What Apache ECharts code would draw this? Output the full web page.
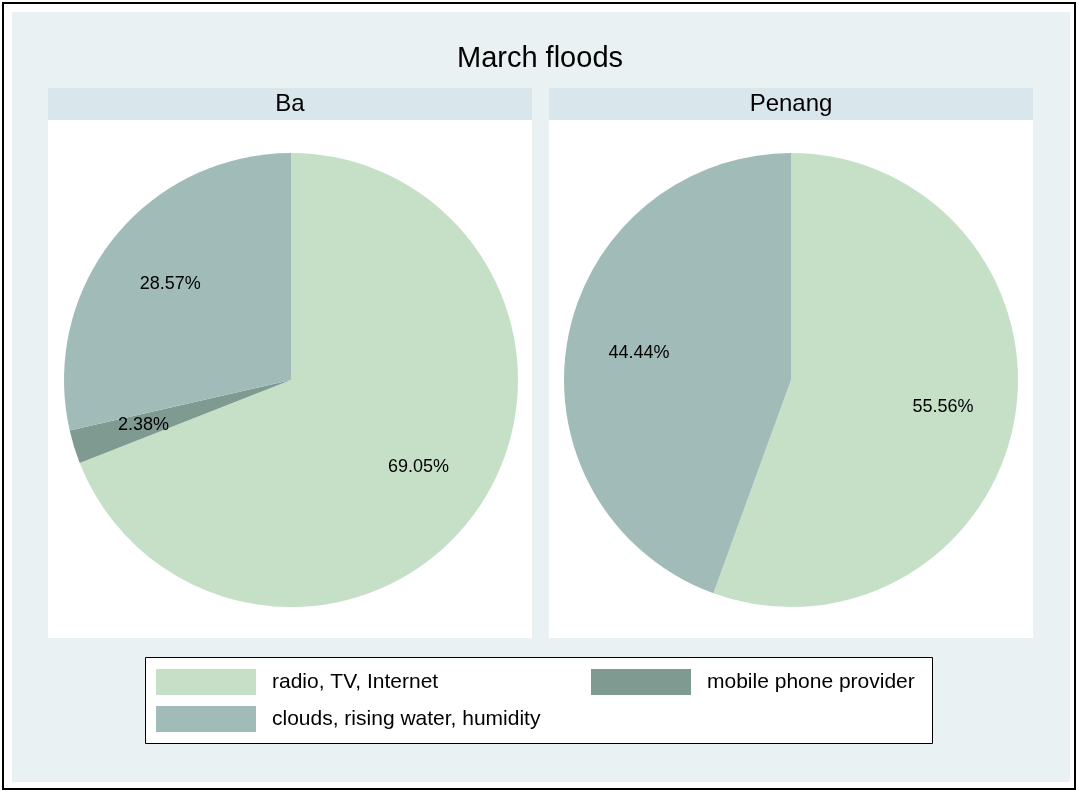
<!DOCTYPE html>
<html>
<head>
<meta charset="utf-8">
<script src="https://cdn.jsdelivr.net/npm/echarts@6/dist/echarts.min.js"></script>
<style>
html,body{margin:0;padding:0;background:#fff;}
#chart{width:1078px;height:792px;}
</style>
</head>
<body>
<div id="chart"></div>
<script>
var chartTitle = 'March floods';
var panels = ['Ba', 'Penang'];
var categories = ['radio, TV, Internet', 'mobile phone provider', 'clouds, rising water, humidity'];
var colors = ['#c5e0c6', '#7f9a91', '#a1bcb8'];
// counts per panel (order: radio, mobile, clouds)
var baValues = [29, 1, 12];
var penangValues = [5, 0, 4];

var FONT = '"Liberation Sans", Arial, sans-serif';
var R = 227;
var centers = [[291, 380], [791, 380]];

function buildData(vals) {
  var out = [];
  for (var i = 0; i < categories.length; i++) {
    if (vals[i] > 0) out.push({name: categories[i], value: vals[i], itemStyle: {color: colors[i]}});
  }
  return out;
}

var allVals = [baValues, penangValues];
var series = [];
for (var p = 0; p < 2; p++) {
  series.push({
    type: 'pie', name: panels[p], center: centers[p], radius: [0, R],
    startAngle: 90, clockwise: true, silent: true,
    label: {show: false}, labelLine: {show: false},
    itemStyle: {borderWidth: 0},
    data: buildData(allVals[p])
  });
}
for (var p2 = 0; p2 < 2; p2++) {
  series.push({
    type: 'pie', name: panels[p2] + ' labels', center: centers[p2], radius: [R / 3, R],
    startAngle: 90, clockwise: true, silent: true, percentPrecision: 2,
    itemStyle: {color: 'rgba(0,0,0,0)', borderWidth: 0},
    label: {show: true, position: 'inside', formatter: '{d}%', color: '#000', fontSize: 18, fontFamily: FONT},
    labelLine: {show: false},
    emphasis: {disabled: true},
    data: buildData(allVals[p2]).map(function (d) { return {name: d.name + ' ', value: d.value}; })
  });
}

var legendCommon = {
  orient: 'vertical', padding: 0, itemWidth: 100, itemHeight: 26, itemGap: 11,
  icon: 'rect', selectedMode: false,
  textStyle: {fontSize: 21, fontFamily: FONT, color: '#000', padding: [4, 0, 0, 11]}
};

var option = {
  animation: false,
  backgroundColor: '#ffffff',
  graphic: [
    {type: 'rect', shape: {x: 3, y: 3, width: 1072, height: 786}, style: {fill: '#fff', stroke: '#000', lineWidth: 2}, z: -10},
    {type: 'rect', shape: {x: 12, y: 12, width: 1058, height: 770}, style: {fill: '#e9f1f3'}, z: -9},
    {type: 'rect', shape: {x: 48, y: 88, width: 484, height: 32}, style: {fill: '#d9e6eb'}, z: -8},
    {type: 'rect', shape: {x: 549, y: 88, width: 484, height: 32}, style: {fill: '#d9e6eb'}, z: -8},
    {type: 'rect', shape: {x: 48, y: 120, width: 484, height: 518}, style: {fill: '#fff'}, z: -8},
    {type: 'rect', shape: {x: 549, y: 120, width: 484, height: 518}, style: {fill: '#fff'}, z: -8},
    {type: 'rect', shape: {x: 145.5, y: 657.5, width: 787, height: 86}, style: {fill: '#fff', stroke: '#000', lineWidth: 1}, z: -8},
    {type: 'text', x: 540, y: 59, style: {text: chartTitle, font: '29px ' + FONT, fill: '#000', textAlign: 'center', textVerticalAlign: 'middle'}},
    {type: 'text', x: 290, y: 104, style: {text: panels[0], font: '24px ' + FONT, fill: '#000', textAlign: 'center', textVerticalAlign: 'middle'}},
    {type: 'text', x: 791, y: 104, style: {text: panels[1], font: '24px ' + FONT, fill: '#000', textAlign: 'center', textVerticalAlign: 'middle'}}
  ],
  legend: [
    Object.assign({}, legendCommon, {left: 156, top: 669, data: [categories[0], categories[2]]}),
    Object.assign({}, legendCommon, {left: 591, top: 669, data: [categories[1]]})
  ],
  series: series
};

var chart = echarts.init(document.getElementById('chart'), null, {renderer: 'canvas'});
chart.setOption(option);
</script>
</body>
</html>
